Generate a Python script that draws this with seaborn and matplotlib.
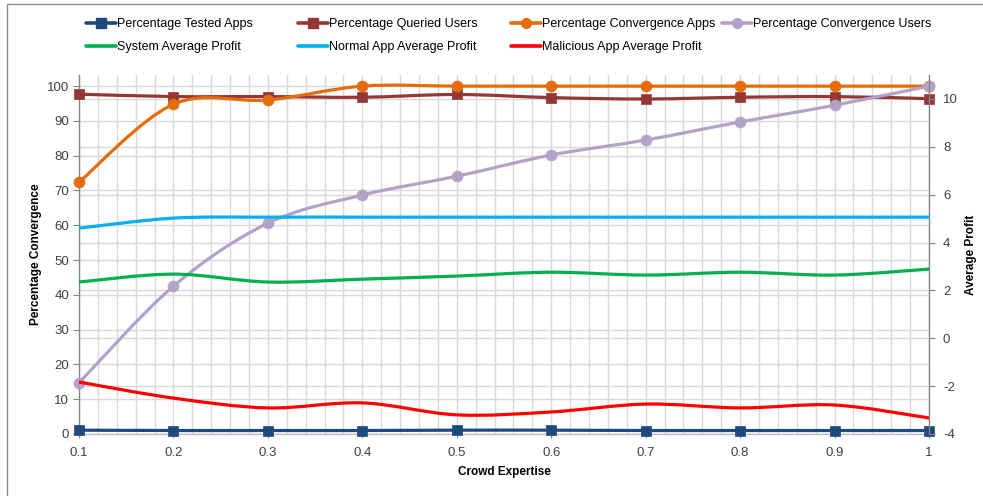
import numpy as np
import pandas as pd
import matplotlib
matplotlib.use("Agg")
import matplotlib.pyplot as plt
import seaborn as sns
from matplotlib.path import Path
from matplotlib.patches import PathPatch, Rectangle
from matplotlib.lines import Line2D
from matplotlib.ticker import MultipleLocator, FuncFormatter

# ---------------- data ----------------
expertise = [0.1, 0.2, 0.3, 0.4, 0.5, 0.6, 0.7, 0.8, 0.9, 1.0]
pct_tested_apps = [1.1, 1.0, 1.0, 1.0, 1.1, 1.1, 1.0, 1.0, 1.0, 1.0]
pct_queried_users = [97.7, 97.0, 97.0, 96.8, 97.6, 96.7, 96.3, 96.8, 97.0, 96.4]
pct_conv_apps = [72.4, 94.8, 96.0, 100.0, 100.0, 100.0, 100.0, 100.0, 100.0, 100.0]
pct_conv_users = [14.7, 42.5, 60.6, 68.7, 74.1, 80.2, 84.5, 89.7, 94.5, 100.0]
system_profit = [2.35, 2.68, 2.35, 2.47, 2.60, 2.76, 2.64, 2.76, 2.64, 2.89]
normal_profit = [4.60, 5.02, 5.06, 5.06, 5.06, 5.06, 5.06, 5.06, 5.06, 5.06]
malicious_profit = [-1.83, -2.50, -2.91, -2.70, -3.20, -3.08, -2.75, -2.91, -2.79, -3.33]

left_series = [
    ("Percentage Tested Apps", pct_tested_apps, "#1F497D", "s"),
    ("Percentage Queried Users", pct_queried_users, "#953735", "s"),
    ("Percentage Convergence Apps", pct_conv_apps, "#E46C0A", "o"),
    ("Percentage Convergence Users", pct_conv_users, "#B3A2C7", "o"),
]
right_series = [
    ("System Average Profit", system_profit, "#00B050", None),
    ("Normal App Average Profit", normal_profit, "#00B0F0", None),
    ("Malicious App Average Profit", malicious_profit, "#FF0000", None),
]

# ---------------- style ----------------
sns.set_theme(style="white")
plt.rcParams["font.family"] = ["Liberation Sans", "DejaVu Sans"]
plt.rcParams["axes.unicode_minus"] = False
TXT = "#404040"
GRID = "#D9D9D9"
AXC = "#868686"

W, H = 983, 496
fig = plt.figure(figsize=(W / 100, H / 100), dpi=100)
fig.patch.set_facecolor("white")
# chart-area frame (only top and left edges are inside the picture)
fig.patches.append(Rectangle((7 / W, -0.05), 1.0, 1 - 4.5 / H + 0.05,
                             transform=fig.transFigure, fill=False,
                             edgecolor="#8C8C8C", lw=1.0))

L, R, T, B = 79, 929, 75, 434
rect = [L / W, 1 - B / H, (R - L) / W, (B - T) / H]
XLIM = (0.1, 1.0)
YL = (0, 103.2)
YR = (-4, 11.0)

# grid layers (drawn underneath everything)
axg = fig.add_axes(rect, zorder=0)
axg.set_xlim(*XLIM)
axg.set_ylim(*YL)
axg.xaxis.set_major_locator(MultipleLocator(0.1))
axg.xaxis.set_minor_locator(MultipleLocator(0.02))
axg.set_yticks(range(0, 101, 10))
axg.grid(True, which="both", axis="x", color=GRID, lw=1.0)
axg.grid(True, which="major", axis="y", color=GRID, lw=1.0)
axg.tick_params(which="both", length=0, labelbottom=False, labelleft=False)
for s in axg.spines.values():
    s.set_visible(False)

axg2 = fig.add_axes(rect, zorder=0.5)
axg2.patch.set_visible(False)
axg2.set_xlim(*XLIM)
axg2.set_ylim(*YR)
axg2.set_yticks(range(-4, 11, 2))
axg2.set_xticks([])
axg2.grid(True, which="major", axis="y", color=GRID, lw=1.0)
axg2.tick_params(which="both", length=0, labelbottom=False, labelleft=False)
for s in axg2.spines.values():
    s.set_visible(False)

# data axes
ax = fig.add_axes(rect, zorder=1)
ax.patch.set_visible(False)
ax2 = fig.add_axes(rect, zorder=2, sharex=ax)
ax2.patch.set_visible(False)


def smooth_path(xs, ys):
    pts = np.column_stack([xs, ys]).astype(float)
    n = len(pts)
    verts = [pts[0]]
    codes = [Path.MOVETO]
    for i in range(n - 1):
        p0 = pts[i - 1] if i > 0 else pts[i]
        p1 = pts[i]
        p2 = pts[i + 1]
        p3 = pts[i + 2] if i + 2 < n else pts[i + 1]
        c1 = p1 + (p2 - p0) / 6.0
        c2 = p2 - (p3 - p1) / 6.0
        verts += [c1, c2, p2]
        codes += [Path.CURVE4] * 3
    return Path(verts, codes)


LW = 2.3


def draw(axis, name, vals, color, marker, z):
    axis.add_patch(PathPatch(smooth_path(expertise, vals), fill=False,
                             edgecolor=color, lw=LW, zorder=z,
                             capstyle="round", joinstyle="round"))
    if marker is not None:
        df = pd.DataFrame({"x": expertise, "y": vals})
        sns.scatterplot(data=df, x="x", y="y", ax=axis, marker=marker,
                        s=62 if marker == "o" else 55, color=color,
                        edgecolor=color, linewidth=0.5, zorder=z + 0.5,
                        legend=False, clip_on=False)


for i, (n, v, c, m) in enumerate(left_series):
    draw(ax, n, v, c, m, 3 + i)
for i, (n, v, c, m) in enumerate(right_series):
    draw(ax2, n, v, c, m, 3 + i)

ax.set_xlim(*XLIM)
ax.set_ylim(*YL)
ax2.set_ylim(*YR)
ax.xaxis.set_major_locator(MultipleLocator(0.1))
ax.set_yticks(range(0, 101, 10))
ax2.set_yticks(range(-4, 11, 2))
ax.grid(False)
ax2.grid(False)

ax.xaxis.set_major_formatter(FuncFormatter(lambda v, p: f"{v:g}"))
ax.tick_params(axis="x", which="major", length=3, width=0.8, color=AXC,
               pad=6, labelsize=9.5, labelcolor=TXT, bottom=True)
ax.tick_params(axis="x", which="minor", length=0)
ax.tick_params(axis="y", length=4, width=0.8, color=AXC, pad=3,
               labelsize=9.5, labelcolor=TXT, left=True)
ax2.yaxis.tick_right()
ax2.yaxis.set_label_position("right")
ax2.tick_params(axis="x", which="both", length=0, labelbottom=False)
ax2.tick_params(axis="y", length=4, width=0.8, color=AXC, pad=6,
                labelsize=9.5, labelcolor=TXT, left=False, labelleft=False,
                right=True, labelright=True)

for a in (ax, ax2):
    for s in a.spines.values():
        s.set_visible(False)
ax.spines["left"].set_visible(True)
ax.spines["left"].set_color(AXC)
ax.spines["bottom"].set_visible(True)
ax.spines["bottom"].set_color("#BFBFBF")
ax2.spines["right"].set_visible(True)
ax2.spines["right"].set_color(AXC)
for s in ("left", "bottom"):
    ax.spines[s].set_linewidth(1.0)
ax2.spines["right"].set_linewidth(1.0)

ax.set_xlabel("Crowd Expertise", fontsize=8.5, fontweight="bold", color="black")
ax.xaxis.set_label_coords(0.5, -0.089)
ax.set_ylabel("Percentage Convergence", fontsize=8.5, fontweight="bold", color="black")
ax.yaxis.set_label_coords(-0.043, 0.5)
ax2.set_xlabel("")
ax2.set_ylabel("Average Profit", fontsize=8.5, fontweight="bold", color="black", rotation=90)
ax2.yaxis.set_label_coords(1.0425, 0.5)

# legend: one entry per slot
slots_x = [86, 298, 511, 722]
slots_y = [24, 47]
entries = left_series + right_series
for k, (n, v, c, m) in enumerate(entries):
    row, col = divmod(k, 4)
    h = Line2D([], [], color=c, lw=2.6, marker=m, markersize=7,
               markeredgecolor=c)
    fig.legend([h], [n], loc="center left",
               bbox_to_anchor=(slots_x[col] / W, 1 - slots_y[row] / H),
               bbox_transform=fig.transFigure, frameon=False,
               borderpad=0, borderaxespad=0, handlelength=2.4,
               handletextpad=0.05, fontsize=9, labelcolor="black")

fig.savefig("out.png", dpi=100)
